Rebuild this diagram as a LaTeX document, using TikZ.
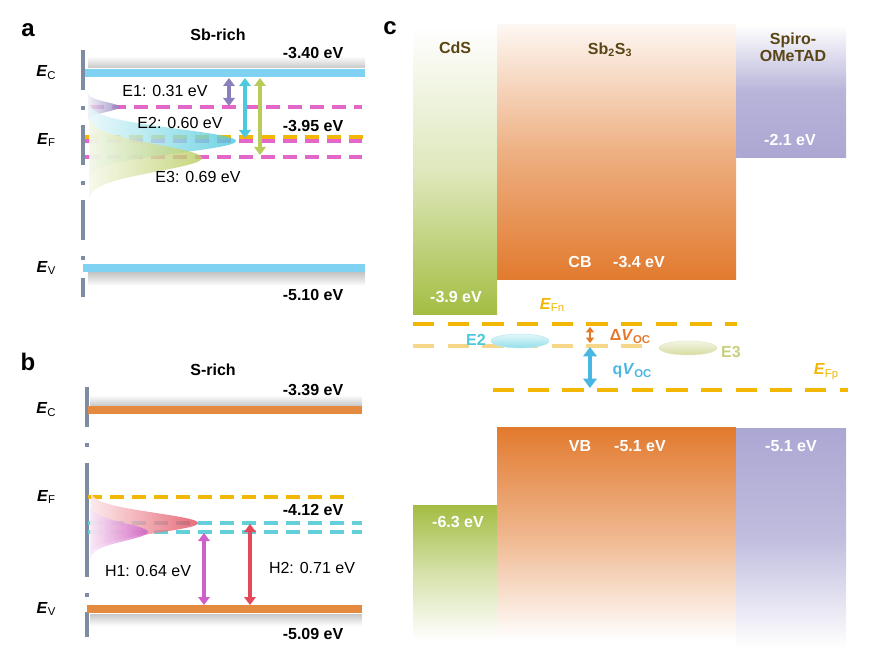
\documentclass[tikz,border=0pt]{standalone}
\usepackage{fontspec}
\setmainfont{Liberation Sans}
\usetikzlibrary{arrows.meta,shapes.geometric}
\definecolor{axisc}{HTML}{7D8CA3}
\definecolor{lblue}{HTML}{7FD2F2}
\definecolor{pinkd}{HTML}{E466C8}
\definecolor{goldd}{HTML}{F2B705}
\definecolor{purpa}{HTML}{8A7FBA}
\definecolor{cyana}{HTML}{4CC9DC}
\definecolor{olivea}{HTML}{B8CC5C}
\definecolor{orangeb}{HTML}{E48A3E}
\definecolor{cyand}{HTML}{63CFD8}
\definecolor{magh}{HTML}{CF5FC9}
\definecolor{redh}{HTML}{E2495A}
\definecolor{cdsg}{HTML}{A3BD42}
\definecolor{sbor}{HTML}{E27A2E}
\definecolor{lav}{HTML}{ABA7D3}
\definecolor{brownt}{HTML}{5A4515}
\definecolor{paleg}{HTML}{F6D78A}
\definecolor{bluea}{HTML}{4AB6E2}
\definecolor{e3c}{HTML}{C9CF7E}
\tikzset{
  axisline/.style={draw=axisc,line width=3pt},
  bandline/.style={line width=6pt},
  dline/.style={line width=3pt,dash pattern=on 10.5pt off 6pt},
  cline/.style={line width=3.2pt,dash pattern=on 16pt off 10pt},
  dbl/.style={line width=2.8pt,{Triangle[width=8.5pt,length=6pt]}-{Triangle[width=8.5pt,length=6pt]}},
  val/.style={font=\fontsize{12}{14}\selectfont\bfseries},
  lab/.style={font=\fontsize{12}{14}\selectfont},
  elab/.style={font=\fontsize{12}{14}\selectfont},
  panel/.style={font=\fontsize{18}{19}\selectfont\bfseries},
  coltext/.style={font=\fontsize{12}{13}\selectfont\bfseries,text=brownt,align=center},
  wtext/.style={font=\fontsize{12}{14}\selectfont\bfseries,text=white},
}
\newcommand{\EE}[1]{\textbf{\textit{E}}\raisebox{-0.35ex}{\fontsize{8.5}{9}\selectfont #1}}
% #1 x0, #2 y centre, #3 x of tip, #4 half spread, #5 colour
\newcommand{\gaussshape}[5]{%
  \shade[left color=#5!15,right color=#5,fill opacity=0.8,draw=none]
   plot[domain=-1:1,samples=51,smooth] ({#1+(#3-#1)*exp(-(2.1*\x)^2)},{#2+#4*\x}) -- cycle;}
\begin{document}
\begin{tikzpicture}[x=0.75pt,y=-0.75pt]
\useasboundingbox (0,0) rectangle (870,655);
% ================= panel a =================
\node[panel] (pa) at (28,30) {a};
\node[val] (sbrich) at (218,35) {Sb-rich};
\draw[axisline] (83,50)--(83,90);
\draw[axisline] (83,106)--(83,110);
\draw[axisline] (83,125)--(83,165);
\draw[axisline] (83,181)--(83,185);
\draw[axisline] (83,200)--(83,240);
\draw[axisline] (83,256)--(83,260);
\draw[axisline] (83,278)--(83,297);
\node[lab] (ecA) at (46,73) {\EE{C}};
\node[lab] (efA) at (46,140) {\EE{F}};
\node[lab] (evA) at (46,268) {\EE{V}};
% shadows
\shade[top color=white,bottom color=black!22] (88,56) rectangle (365,68);
\shade[top color=black!22,bottom color=white] (88,273) rectangle (365,286);
% bands
\draw[bandline,lblue] (85,73)--(365,73);
\draw[bandline,lblue] (83,268)--(365,268);
\draw[dline,pinkd] (90,107)--(362,107);
\draw[dline,goldd] (85,137)--(366,137);
\draw[dline,pinkd] (85,141)--(362,141);
\draw[dline,pinkd] (85,157)--(362,157);
% gaussians
\gaussshape{88}{107}{120}{14}{purpa}
\gaussshape{88}{141}{236}{36}{cyana}
\gaussshape{88}{158}{202}{40}{olivea}
\node[val,anchor=east] (v340) at (348,53) {-3.40 eV};
\node[val,anchor=east] (v395) at (348,126) {-3.95 eV};
\node[val,anchor=east] (v510) at (348,295) {-5.10 eV};
\coordinate (a1t) at (229,78); \coordinate (a1b) at (229,106);
\coordinate (a2t) at (245,78); \coordinate (a2b) at (245,138);
\coordinate (a3t) at (260,78); \coordinate (a3b) at (260,155);
\draw[dbl,purpa] (a1t)--(a1b);
\draw[dbl,cyana] (a2t)--(a2b);
\draw[dbl,olivea] (a3t)--(a3b);
\node[elab] (e1) at (165,91) {E1: 0.31 eV};
\node[elab] (e2) at (180,123) {E2: 0.60 eV};
\node[elab] (e3) at (198,177) {E3: 0.69 eV};
% ================= panel b =================
\node[panel] (pb) at (28,362) {b};
\node[val] (srich) at (213,370) {S-rich};
\draw[axisline] (87,387)--(87,427);
\draw[axisline] (87,443)--(87,447);
\draw[axisline] (87,463)--(87,577);
\draw[axisline] (87,593)--(87,597);
\draw[axisline] (87,612)--(87,637);
\node[lab] (ecB) at (46,410) {\EE{C}};
\node[lab] (efB) at (46,497) {\EE{F}};
\node[lab] (evB) at (46,609) {\EE{V}};
\shade[top color=white,bottom color=black!22] (90,395) rectangle (362,406);
\shade[top color=black!22,bottom color=white] (90,614) rectangle (362,626);
\draw[bandline,orangeb] (88,410)--(362,410);
\draw[bandline,orangeb] (87,609)--(362,609);
\draw[dline,goldd] (88,497)--(352,497);
\draw[dline,cyand] (88,523)--(362,523);
\draw[dline,cyand] (88,532)--(362,532);
\gaussshape{90}{523}{198}{30}{redh}
\gaussshape{90}{532}{148}{26}{magh}
\node[val,anchor=east] (v339) at (348,390) {-3.39 eV};
\node[val,anchor=east] (v412) at (348,510) {-4.12 eV};
\node[val,anchor=east] (v509) at (348,634) {-5.09 eV};
\coordinate (h1t) at (204,533); \coordinate (h1b) at (204,605);
\coordinate (h2t) at (250,524); \coordinate (h2b) at (250,605);
\draw[dbl,magh] (h1t)--(h1b);
\draw[dbl,redh] (h2t)--(h2b);
\node[elab] (h1) at (148,571) {H1: 0.64 eV};
\node[elab] (h2) at (312,568) {H2: 0.71 eV};
% ================= panel c =================
\node[panel] (pc) at (390,28) {c};
% columns
\shade[top color=white,bottom color=cdsg,middle color=cdsg!35] (413,25) rectangle (497,315);
\shade[top color=cdsg,bottom color=white,middle color=cdsg!45] (413,505) rectangle (497,640);
\shade[top color=sbor!6,bottom color=sbor,middle color=sbor!60] (497,25) rectangle (736,280);
\shade[top color=sbor,bottom color=white,middle color=sbor!55] (497,427) rectangle (736,640);
\shade[top color=white,bottom color=lav,middle color=lav!85] (736,25) rectangle (846,158);
\shade[top color=lav,bottom color=white,middle color=lav!75] (736,428) rectangle (846,648);
\node[coltext] (cds) at (455,48) {CdS};
\node[coltext] (sbs) at (610,50) {Sb\textsubscript{2}S\textsubscript{3}};
\node[coltext] (spiro) at (793,47) {Spiro-\\OMeTAD};
\node[wtext] (c39) at (456,297) {-3.9 eV};
\node[wtext] (c63) at (458,522) {-6.3 eV};
\node[wtext] (cb) at (580,262) {CB};
\node[wtext] (cb34) at (639,262) {-3.4 eV};
\node[wtext] (vb) at (580,446) {VB};
\node[wtext] (vb51) at (640,446) {-5.1 eV};
\node[wtext] (sp21) at (790,140) {-2.1 eV};
\node[wtext] (sp51) at (791,446) {-5.1 eV};
% quasi Fermi levels
\draw[cline,goldd] (413,324)--(737,324);
\draw[cline,paleg] (413,346)--(645,346);
\draw[cline,goldd] (493,390)--(848,390);
\node[lab,text=goldd] (efn) at (552,305) {\EE{Fn}};
\node[lab,text=goldd] (efp) at (826,372) {\EE{Fp}};
% trap ellipses
\node[ellipse,minimum width=58pt*0.75,minimum height=14pt*0.75,inner sep=0pt,
      top color=cyana!15,bottom color=cyana!60,draw=cyana!40] (el2) at (520,341) {};
\node[ellipse,minimum width=58pt*0.75,minimum height=14pt*0.75,inner sep=0pt,
      top color=e3c!20,bottom color=e3c!75,draw=e3c!50] (el3) at (688,348) {};
\node[font=\fontsize{12}{14}\selectfont\bfseries,text=cyana] (lE2) at (476,340) {E2};
\node[font=\fontsize{12}{14}\selectfont\bfseries,text=e3c] (lE3) at (731,352) {E3};
% Voc arrows
\coordinate (dvt) at (590,327); \coordinate (dvb) at (590,343);
\coordinate (qvt) at (590,347); \coordinate (qvb) at (590,388);
\draw[line width=2pt,sbor,{Triangle[width=6pt,length=4pt]}-{Triangle[width=6pt,length=4pt]}] (dvt)--(dvb);
\draw[line width=3pt,bluea,{Triangle[width=10pt,length=7pt]}-{Triangle[width=10pt,length=7pt]}] (qvt)--(qvb);
\node[font=\fontsize{12}{14}\selectfont\bfseries,text=sbor] (ldv) at (630,337) {Δ\textit{V}\raisebox{-0.35ex}{\fontsize{8.5}{9}\selectfont OC}};
\node[font=\fontsize{12}{14}\selectfont\bfseries,text=bluea] (lqv) at (632,371) {q\textit{V}\raisebox{-0.35ex}{\fontsize{8.5}{9}\selectfont OC}};
\end{tikzpicture}
\end{document}
